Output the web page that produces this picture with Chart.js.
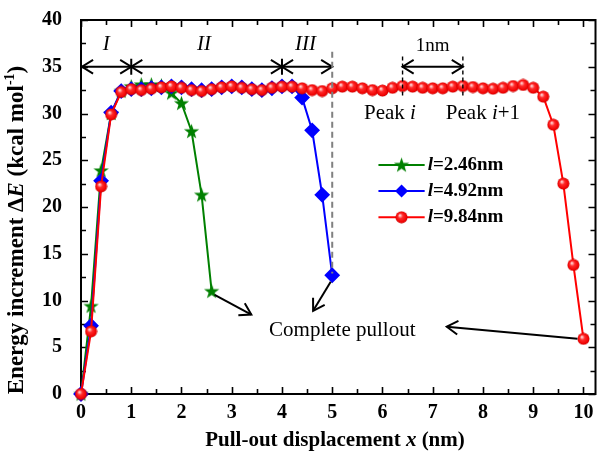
<!DOCTYPE html>
<html lang="en">
<head>
<meta charset="UTF-8">
<title>Pull-out energy increment</title>
<script src="https://cdn.jsdelivr.net/npm/chart.js"></script>
<style>
  html, body { margin: 0; padding: 0; background: #fff; }
</style>
</head>
<body>
<canvas id="chart" width="604" height="466"></canvas>
<script>
// displacement x (nm) and energy increment (kcal/mol)
const xShort = [0, 0.2, 0.4, 0.6, 0.8, 1.0, 1.2, 1.4, 1.6, 1.8, 2.0, 2.2, 2.4, 2.6];
const eShort = [0, 9.4, 23.9, 30.0, 32.4, 32.9, 33.1, 33.1, 33.0, 32.2, 31.1, 28.1, 21.3, 11.0];

const xMid = [0, 0.2, 0.4, 0.6, 0.8, 1.0, 1.2, 1.4, 1.6, 1.8, 2.0, 2.2, 2.4, 2.6, 2.8, 3.0, 3.2, 3.4, 3.6, 3.8, 4.0, 4.2, 4.4, 4.6, 4.8, 5.0];
const eMid = [0, 7.3, 22.8, 30.1, 32.4, 32.6, 32.6, 32.7, 32.8, 32.9, 32.8, 32.6, 32.5, 32.6, 32.8, 32.9, 32.8, 32.6, 32.5, 32.7, 32.9, 32.9, 31.7, 28.2, 21.3, 12.7];

const xLong = [0, 0.2, 0.4, 0.6, 0.8, 1.0, 1.2, 1.4, 1.6, 1.8, 2.0, 2.2, 2.4, 2.6, 2.8, 3.0, 3.2, 3.4, 3.6, 3.8,
               4.0, 4.2, 4.4, 4.6, 4.8, 5.0, 5.2, 5.4, 5.6, 5.8, 6.0, 6.2, 6.4, 6.6, 6.8, 7.0, 7.2, 7.4, 7.6, 7.8,
               8.0, 8.2, 8.4, 8.6, 8.8, 9.0, 9.2, 9.4, 9.6, 9.8, 10.0];
const eLong = [0, 6.7, 22.2, 29.9, 32.3, 32.6, 32.5, 32.65, 32.8, 32.9, 32.75, 32.5, 32.4, 32.6, 32.8, 32.9, 32.75, 32.6, 32.5, 32.75,
               32.87, 32.87, 32.7, 32.5, 32.4, 32.7, 32.87, 32.87, 32.7, 32.5, 32.45, 32.75, 32.94, 32.87, 32.75, 32.7, 32.7, 32.87, 32.94, 32.83,
               32.7, 32.65, 32.75, 32.94, 33.05, 32.75, 31.8, 28.8, 22.5, 13.8, 5.9];

const seriesNames = ['2.46nm', '4.92nm', '9.84nm'];
const xTickValues = [0, 1, 2, 3, 4, 5, 6, 7, 8, 9, 10];
const yTickValues = [0, 5, 10, 15, 20, 25, 30, 35, 40];

const serif = '"Liberation Serif", "Times New Roman", serif';
const GREEN = '#008000', BLUE = '#0000ff', RED = '#ff0000';

// marker images
function makeStar() {
  const c = document.createElement('canvas');
  c.width = 17; c.height = 17;
  const g = c.getContext('2d');
  g.fillStyle = GREEN;
  g.beginPath();
  for (let i = 0; i < 10; i++) {
    const r = i % 2 ? 3.2 : 8;
    const a = -Math.PI / 2 + i * Math.PI / 5;
    g.lineTo(8.5 + r * Math.cos(a), 9 + r * Math.sin(a));
  }
  g.closePath();
  g.fill();
  return c;
}
function makeBall() {
  const c = document.createElement('canvas');
  c.width = 13; c.height = 13;
  const g = c.getContext('2d');
  const grad = g.createRadialGradient(4.8, 4.5, 0.5, 6.5, 6.5, 6.2);
  grad.addColorStop(0, '#ffd6d6');
  grad.addColorStop(0.35, '#ff2a2a');
  grad.addColorStop(0.85, '#ee0000');
  grad.addColorStop(1, '#b00000');
  g.fillStyle = grad;
  g.beginPath();
  g.arc(6.5, 6.5, 6, 0, Math.PI * 2);
  g.fill();
  return c;
}
const starImg = makeStar();
const ballImg = makeBall();

function toPts(xs, ys) {
  return xs.map((x, i) => ({ x: x, y: ys[i] }));
}

function head(ctx, x1, y1, x2, y2, size) {
  const a = Math.atan2(y2 - y1, x2 - x1);
  ctx.beginPath();
  ctx.moveTo(x2 - size * Math.cos(a - 0.55), y2 - size * Math.sin(a - 0.55));
  ctx.lineTo(x2, y2);
  ctx.lineTo(x2 - size * Math.cos(a + 0.55), y2 - size * Math.sin(a + 0.55));
  ctx.stroke();
}

function arrow(ctx, x1, y1, x2, y2, both) {
  ctx.beginPath();
  ctx.moveTo(x1, y1);
  ctx.lineTo(x2, y2);
  ctx.stroke();
  head(ctx, x1, y1, x2, y2, 13);
  if (both) head(ctx, x2, y2, x1, y1, 13);
}

// draw text made of differently styled pieces
function richText(ctx, parts, x, y, align) {
  let w = 0;
  parts.forEach(p => { ctx.font = p.font; p.w = ctx.measureText(p.t).width; w += p.w; });
  let cx = align === 'center' ? x - w / 2 : (align === 'right' ? x - w : x);
  parts.forEach(p => {
    ctx.font = p.font;
    ctx.textAlign = 'left';
    ctx.fillText(p.t, cx, y + (p.dy || 0));
    cx += p.w;
  });
}

const framePlugin = {
  id: 'frame',
  beforeDatasetsDraw(chart) {
    const ctx = chart.ctx, a = chart.chartArea;
    const xs = chart.scales.x, ys = chart.scales.y;
    ctx.save();
    ctx.strokeStyle = '#000';
    ctx.lineWidth = 2;
    ctx.strokeRect(a.left, a.top, a.right - a.left, a.bottom - a.top);
    ctx.lineWidth = 1.6;
    ctx.beginPath();
    for (let v = 0; v <= 10.01; v += 0.5) {
      const px = Math.round(xs.getPixelForValue(v)) + 0.5;
      const len = Math.abs(v - Math.round(v)) < 0.01 ? 7 : 5;
      ctx.moveTo(px, a.bottom); ctx.lineTo(px, a.bottom - len);
      ctx.moveTo(px, a.top); ctx.lineTo(px, a.top + len);
    }
    for (let v = 0; v <= 40.01; v += 2.5) {
      const py = Math.round(ys.getPixelForValue(v)) + 0.5;
      const len = v % 5 === 0 ? 7 : 5;
      ctx.moveTo(a.left, py); ctx.lineTo(a.left + len, py);
      ctx.moveTo(a.right, py); ctx.lineTo(a.right - len, py);
    }
    ctx.stroke();
    ctx.restore();
  },
  afterDatasetsDraw(chart) {
    const ctx = chart.ctx;
    const xs = chart.scales.x, ys = chart.scales.y;
    const X = v => xs.getPixelForValue(v), Y = v => ys.getPixelForValue(v);
    ctx.save();
    ctx.fillStyle = '#000';
    ctx.strokeStyle = '#000';
    ctx.textBaseline = 'middle';

    // stage arrows I, II, III
    ctx.lineWidth = 2;
    const yA = Y(35);
    arrow(ctx, X(0) + 1, yA, X(1), yA, true);
    arrow(ctx, X(1), yA, X(4), yA, true);
    arrow(ctx, X(4), yA, X(5), yA, true);
    ctx.beginPath();
    ctx.moveTo(X(1), yA - 8); ctx.lineTo(X(1), yA + 8);
    ctx.moveTo(X(4), yA - 8); ctx.lineTo(X(4), yA + 8);
    ctx.stroke();
    ctx.font = 'italic 21px ' + serif;
    ctx.textAlign = 'center';
    ctx.fillText('I', X(0.5), Y(37.4));
    ctx.fillText('II', X(2.45), Y(37.4));
    ctx.fillText('III', X(4.47), Y(37.4));

    // dashed line at x = 5
    ctx.save();
    ctx.strokeStyle = '#808080';
    ctx.setLineDash([6, 4]);
    ctx.beginPath();
    ctx.moveTo(X(5), Y(36.6)); ctx.lineTo(X(5), Y(12.9));
    ctx.stroke();
    ctx.restore();

    // 1 nm period marker
    ctx.lineWidth = 2;
    arrow(ctx, X(6.4), yA, X(7.6), yA, true);
    ctx.save();
    ctx.lineWidth = 1.4;
    ctx.setLineDash([4, 3]);
    ctx.beginPath();
    ctx.moveTo(X(6.4), Y(36.1)); ctx.lineTo(X(6.4), Y(31.8));
    ctx.moveTo(X(7.6), Y(36.1)); ctx.lineTo(X(7.6), Y(31.8));
    ctx.stroke();
    ctx.restore();
    ctx.font = '19px ' + serif;
    ctx.textAlign = 'center';
    ctx.fillText('1nm', X(7.0), Y(37.2));

    const reg = '21px ' + serif, ita = 'italic 21px ' + serif;
    richText(ctx, [{ t: 'Peak ', font: reg }, { t: 'i', font: ita }], X(6.15), Y(30.0), 'center');
    richText(ctx, [{ t: 'Peak ', font: reg }, { t: 'i', font: ita }, { t: '+1', font: reg }], X(8.0), Y(30.0), 'center');

    // complete pullout
    ctx.font = reg;
    ctx.textAlign = 'center';
    ctx.fillText('Complete pullout', X(5.2), Y(6.8));
    ctx.lineWidth = 2;
    arrow(ctx, X(2.66), Y(10.6), X(3.39), Y(8.5), false);
    arrow(ctx, X(4.97), Y(12.0), X(4.62), Y(8.9), false);
    arrow(ctx, X(9.88), Y(5.9), X(7.28), Y(7.2), false);

    // legend
    const rows = [
      { c: GREEN, img: starImg, y: 24.5 },
      { c: BLUE, img: 'rectRot', y: 21.7 },
      { c: RED, img: ballImg, y: 18.9 }
    ];
    rows.forEach((r, i) => {
      const py = Y(r.y);
      ctx.strokeStyle = r.c;
      ctx.lineWidth = 2;
      ctx.beginPath();
      ctx.moveTo(X(5.92), py); ctx.lineTo(X(6.84), py);
      ctx.stroke();
      const mx = X(6.38);
      if (r.img === 'rectRot') {
        ctx.fillStyle = BLUE;
        ctx.beginPath();
        ctx.moveTo(mx, py - 6.5); ctx.lineTo(mx + 6.5, py); ctx.lineTo(mx, py + 6.5); ctx.lineTo(mx - 6.5, py);
        ctx.closePath(); ctx.fill();
      } else {
        ctx.drawImage(r.img, mx - r.img.width / 2, py - r.img.height / 2);
      }
      ctx.fillStyle = '#000';
      richText(ctx, [
        { t: 'l', font: 'italic bold 19px ' + serif },
        { t: '=' + seriesNames[i], font: 'bold 19px ' + serif }
      ], X(6.9), py, 'left');
    });
    ctx.restore();
  },
  afterDraw(chart) {
    const ctx = chart.ctx;
    ctx.save();
    ctx.fillStyle = '#000';
    ctx.textBaseline = 'middle';
    const b = 'bold 21px ' + serif, bi = 'italic bold 21px ' + serif;
    richText(ctx, [
      { t: 'Pull-out displacement ', font: b },
      { t: 'x', font: bi },
      { t: ' (nm)', font: b }
    ], 335, 441, 'center');

    const b2 = 'bold 23px ' + serif, bi2 = 'italic bold 23px ' + serif;
    ctx.translate(17, 230);
    ctx.rotate(-Math.PI / 2);
    richText(ctx, [
      { t: 'Energy increment \u0394', font: b2 },
      { t: 'E', font: bi2 },
      { t: ' (kcal mol', font: b2 },
      { t: '-1', font: 'bold 14px ' + serif, dy: -7 },
      { t: ')', font: b2 }
    ], 0, 0, 'center');
    ctx.restore();
  }
};

const tickFont = { family: serif, size: 20, weight: 'bold' };

new Chart(document.getElementById('chart'), {
  type: 'line',
  data: {
    datasets: [
      {
        label: 'l=' + seriesNames[0], data: toPts(xShort, eShort),
        borderColor: GREEN, backgroundColor: GREEN, borderWidth: 2,
        pointStyle: starImg, order: 3
      },
      {
        label: 'l=' + seriesNames[1], data: toPts(xMid, eMid),
        borderColor: BLUE, backgroundColor: BLUE, borderWidth: 2,
        pointStyle: 'rectRot', pointRadius: 6.5, order: 2
      },
      {
        label: 'l=' + seriesNames[2], data: toPts(xLong, eLong),
        borderColor: RED, backgroundColor: RED, borderWidth: 2,
        pointStyle: ballImg, order: 1
      }
    ]
  },
  options: {
    responsive: false,
    animation: false,
    clip: false,
    layout: { padding: { left: 0, top: 20, right: 3, bottom: 0 } },
    elements: { line: { tension: 0 }, point: { borderWidth: 0 } },
    plugins: { legend: { display: false }, tooltip: { enabled: false } },
    scales: {
      x: {
        type: 'linear', min: 0, max: 10.24,
        grid: { display: false, drawTicks: false },
        border: { display: false },
        afterBuildTicks: s => { s.ticks = xTickValues.map(v => ({ value: v })); },
        afterFit: s => { s.height = 72; s.paddingLeft = 0; s.paddingRight = 0; },
        ticks: { font: tickFont, color: '#000', padding: 7, maxRotation: 0 }
      },
      y: {
        type: 'linear', min: 0, max: 40,
        grid: { display: false, drawTicks: false },
        border: { display: false },
        afterBuildTicks: s => { s.ticks = yTickValues.map(v => ({ value: v })); },
        afterFit: s => { s.width = 81; s.paddingTop = 0; s.paddingBottom = 0; },
        ticks: { font: tickFont, color: '#000', padding: 19 }
      }
    }
  },
  plugins: [framePlugin]
});
</script>
</body>
</html>
